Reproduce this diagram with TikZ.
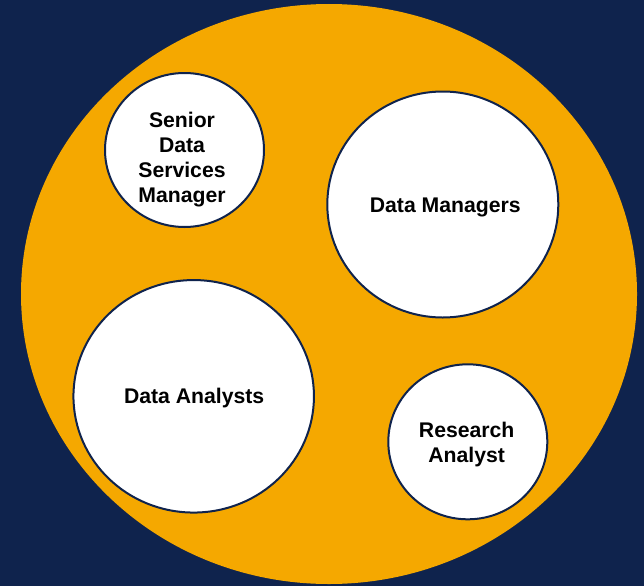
\documentclass[tikz,border=0pt]{standalone}
\usepackage{fontspec}
\setmainfont{Liberation Sans}
\definecolor{navy}{RGB}{15,35,77}
\definecolor{gold}{RGB}{245,168,0}
\tikzset{
  bubble/.style={draw=navy, line width=2pt, fill=white, ellipse, inner sep=0pt},
  lbl/.style={font=\bfseries\fontsize{21.2}{24.8}\selectfont, align=center, text=black, inner sep=0pt}
}
\usetikzlibrary{shapes.geometric}
\begin{document}
\begin{tikzpicture}[x=1pt,y=-1pt]
  \fill[navy] (0,0) rectangle (644,586);
  \useasboundingbox (0,0) rectangle (644,586);
  \node[fill=gold, ellipse, minimum width=616pt, minimum height=580pt, inner sep=0pt] (team) at (329,294) {};
  \node[bubble, minimum width=159pt, minimum height=154pt] (sdsm) at (184.5,150) {};
  \node[bubble, minimum width=231pt, minimum height=226pt] (dm) at (442.8,204.5) {};
  \node[bubble, minimum width=240.5pt, minimum height=232.5pt] (da) at (193.7,396.3) {};
  \node[bubble, minimum width=159pt, minimum height=155pt] (ra) at (467.8,441.8) {};
  \node[lbl] (sdsmt) at (182,159.5) {Senior\\Data\\Services\\Manager};
  \node[lbl] (dmt) at (445.3,207.6) {Data Managers};
  \node[lbl] (dat) at (194.2,398.1) {Data Analysts};
  \node[lbl] (rat) at (466.7,444.6) {Research\\Analyst};
\end{tikzpicture}
\end{document}
